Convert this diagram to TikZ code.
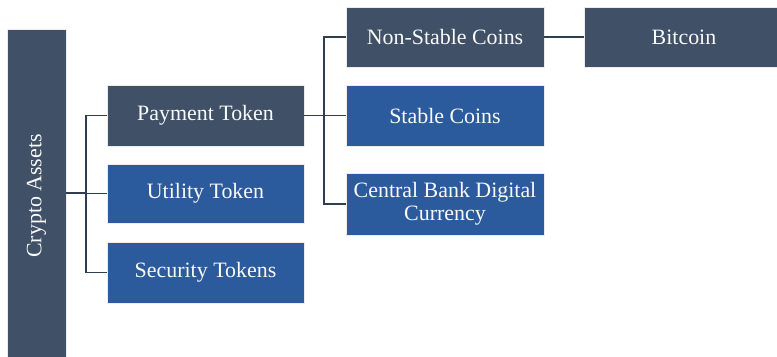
\documentclass[tikz,border=0pt]{standalone}
\usepackage{fontspec}
\setmainfont{Liberation Serif}
\definecolor{darkbox}{HTML}{3F5067}
\definecolor{bluebox}{HTML}{2C5B9D}
\definecolor{linecol}{HTML}{2E3D50}
\begin{document}
\begin{tikzpicture}[x=1bp,y=-1bp,
  box/.style={rectangle, draw=white!85!gray, line width=0.8bp, text=white!95!gray, inner sep=0pt, align=center,
    font=\fontsize{22}{23}\selectfont},
  dbox/.style={box, fill=darkbox},
  bbox/.style={box, fill=bluebox},
  conn/.style={draw=linecol, line width=1.5bp}]
\useasboundingbox (0,0) rectangle (777,356);
\node[dbox, minimum width=59bp, minimum height=328bp] (crypto) at (36.5,193) {};
\node[rotate=90, text=white!95!gray, font=\fontsize{22}{23}\selectfont] (cryptolbl) at (36.5,196) {Crypto Assets};
\node[dbox, minimum width=197bp, minimum height=61bp] (pay) at (205.5,115.5) {Payment Token};
\node[bbox, minimum width=197bp, minimum height=59bp] (util) at (205.5,193.5) {Utility Token};
\node[bbox, minimum width=197bp, minimum height=61bp] (sec) at (205.5,272.5) {Security Tokens};
\node[dbox, minimum width=198bp, minimum height=60bp] (nsc) at (445,37) {Non-Stable Coins};
\node[bbox, minimum width=198bp, minimum height=61bp] (stab) at (445,115.5) {Stable Coins};
\node[bbox, minimum width=198bp, minimum height=62bp] (cbdc) at (445,204) {Central Bank Digital\\Currency};
\node[dbox, minimum width=200bp, minimum height=60bp] (btc) at (684,37) {Bitcoin};
\coordinate (j1) at (86,193);
\coordinate (j2) at (324,115.5);
\draw[conn] (crypto.east |- j1) -- (j1);
\draw[conn] (j1) |- (pay.west);
\draw[conn] (j1) |- (util.west);
\draw[conn] (j1) |- (sec.west);
\draw[conn] (pay.east) -- (j2);
\draw[conn] (j2) |- (nsc.west);
\draw[conn] (j2) |- (stab.west);
\draw[conn] (j2) |- (cbdc.west);
\draw[conn] (nsc.east) -- (btc.west);
\end{tikzpicture}
\end{document}
